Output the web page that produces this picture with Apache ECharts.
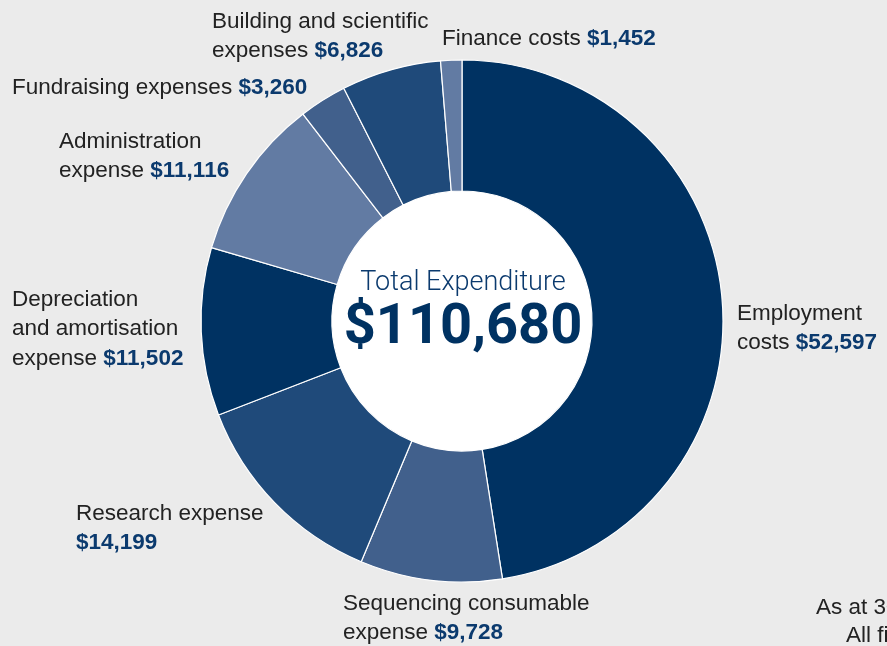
<!DOCTYPE html>
<html>
<head>
<meta charset="utf-8">
<script src="https://cdn.jsdelivr.net/npm/echarts@6/dist/echarts.min.js"></script>
<style>
  html, body { margin: 0; padding: 0; background: #ebebeb; }
  #chart { width: 887px; height: 646px; }
</style>
</head>
<body>
<div id="chart"></div>
<script>
(function () {
    'use strict';

    // expenditure categories, $'000
    var categories = ['Employment costs', 'Sequencing consumable expense', 'Research expense',
        'Depreciation and amortisation expense', 'Administration expense', 'Fundraising expenses',
        'Building and scientific expenses', 'Finance costs'];
    var values = [52597, 9728, 14199, 11502, 11116, 3260, 6826, 1452];
    // how each label breaks into lines (last line gets the value)
    var labelLines = [
        ['Employment', 'costs '],
        ['Sequencing consumable', 'expense '],
        ['Research expense', ''],
        ['Depreciation', 'and amortisation', 'expense '],
        ['Administration', 'expense '],
        ['Fundraising expenses '],
        ['Building and scientific', 'expenses '],
        ['Finance costs ']
    ];
    var total = 110680;

    var sliceColors = ['#003262', '#41608c', '#1f4a7a', '#003262', '#627ba3', '#41608c', '#1f4a7a', '#627ba3'];
    // label block top-left corners
    var labelPos = [[737, 299], [343, 589], [76, 499], [12, 285], [59, 127], [12, 73], [212, 7], [442, 24]];

    var labelFont = 'Liberation Sans';

    function fmt(v) {
        return '$' + String(v).replace(/\B(?=(\d{3})+(?!\d))/g, ',');
    }

    var chart = echarts.init(document.getElementById('chart'));
    chart.setOption({
        backgroundColor: '#ebebeb',
        animation: false,
        series: [{
            type: 'pie',
            center: [462, 321],
            radius: [130, 261],
            startAngle: 90,
            clockwise: true,
            itemStyle: { borderColor: '#ffffff', borderWidth: 1.2 },
            labelLine: { show: false },
            emphasis: { disabled: true },
            label: {
                show: true,
                position: 'outside',
                width: 400,
                overflow: 'none',
                formatter: function (p) {
                    var lines = labelLines[p.dataIndex];
                    var out = [];
                    for (var i = 0; i < lines.length; i++) {
                        if (i === lines.length - 1) {
                            out.push((lines[i] ? '{n|' + lines[i] + '}' : '') + '{v|' + fmt(p.value) + '}');
                        } else {
                            out.push('{n|' + lines[i] + '}');
                        }
                    }
                    return out.join('\n');
                },
                rich: {
                    n: { fontFamily: labelFont, fontSize: 22.5, color: '#222222', lineHeight: 29.5 },
                    v: { fontFamily: labelFont, fontWeight: 'bold', fontSize: 22.5, color: '#0b3a6e', lineHeight: 29.5 }
                }
            },
            labelLayout: function (p) {
                var pos = labelPos[p.dataIndex];
                return { x: pos[0], y: pos[1], align: 'left', verticalAlign: 'top' };
            },
            data: categories.map(function (c, i) {
                return { name: c, value: values[i], itemStyle: { color: sliceColors[i] } };
            })
        }],
        graphic: [
            {
                type: 'circle', shape: { cx: 462, cy: 321, r: 130 }, style: { fill: '#ffffff' }, z: -1
            },
            {
                type: 'text', x: 463, y: 283,
                style: { text: 'Total Expenditure', fontFamily: 'Roboto', fontWeight: 300, fontSize: 27,
                    fill: '#0b3a6e', align: 'center', verticalAlign: 'middle' }
            },
            {
                type: 'text', x: 463, y: 329,
                style: { text: fmt(total), fontFamily: 'Roboto', fontWeight: 'bold', fontSize: 56,
                    fill: '#003262', align: 'center', verticalAlign: 'middle' }
            },
            {
                type: 'text', x: 816, y: 608,
                style: { text: 'As at 30 June', fontFamily: labelFont, fontSize: 22.5,
                    fill: '#222222', verticalAlign: 'middle' }
            },
            {
                type: 'text', x: 846, y: 636,
                style: { text: "All figures in $'000", fontFamily: labelFont, fontSize: 22.5,
                    fill: '#222222', verticalAlign: 'middle' }
            }
        ]
    });
})();
</script>
</body>
</html>
